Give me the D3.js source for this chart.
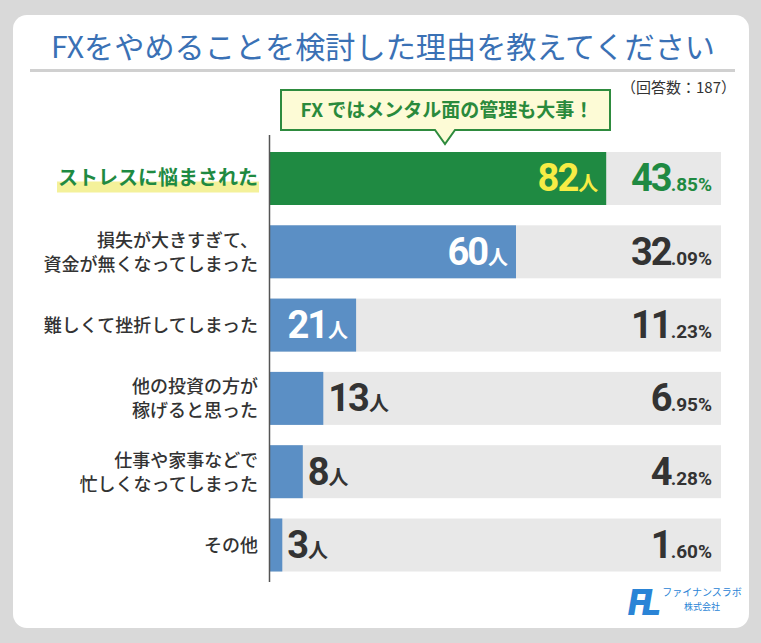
<!DOCTYPE html>
<html><head><meta charset="utf-8">
<script src="https://cdn.jsdelivr.net/npm/d3@7"></script>
<style>
html,body{margin:0;padding:0;background:#d9d9d9;}
svg{display:block;}
</style></head>
<body>
<script>
const categories = [
  ["ストレスに悩まされた"],
  ["損失が大きすぎて、","資金が無くなってしまった"],
  ["難しくて挫折してしまった"],
  ["他の投資の方が","稼げると思った"],
  ["仕事や家事などで","忙しくなってしまった"],
  ["その他"]
];
const counts = [82, 60, 21, 13, 8, 3];
const percentInt = ["43", "32", "11", "6", "4", "1"];
const percentDec = [".85%", ".09%", ".23%", ".95%", ".28%", ".60%"];
const title = "FXをやめることを検討した理由を教えてください";
const note = "（回答数：187）";
const callout = "FX ではメンタル面の管理も大事！";

const W = 761, H = 643;
const FONT = "'Noto Sans CJK JP','Noto Sans',sans-serif";
const NUM = "Roboto,'Noto Sans',sans-serif";
const svg = d3.select("body").append("svg").attr("width", W).attr("height", H);

svg.append("rect").attr("x",0).attr("y",0).attr("width",W).attr("height",H).attr("fill","#d9d9d9");
svg.append("rect").attr("x",13).attr("y",15).attr("width",736).attr("height",613).attr("rx",14).attr("fill","#ffffff");

svg.append("text").attr("x",383).attr("y",58).attr("text-anchor","middle")
  .attr("font-family",FONT).attr("font-size",30).attr("font-weight",400)
  .attr("textLength",664).attr("lengthAdjust","spacingAndGlyphs")
  .attr("fill","#3a71b5").text(title);
svg.append("line").attr("x1",30).attr("x2",735).attr("y1",70.5).attr("y2",70.5)
  .attr("stroke","#d0d0d0").attr("stroke-width",3);
svg.append("text").attr("x",736).attr("y",93).attr("text-anchor","end")
  .attr("font-family",FONT).attr("font-size",15).attr("fill","#333").text(note);

const x = d3.scaleLinear().domain([0, 110]).range([270, 721]);
const y = d3.scaleBand().domain(d3.range(counts.length)).range([152, 571.5]).paddingInner(0.277).paddingOuter(0);

const g = svg.append("g");
g.selectAll("rect.track").data(counts).join("rect").attr("class","track")
  .attr("x", x(0)).attr("y",(d,i)=>y(i)).attr("width", x.range()[1]-x(0)).attr("height", y.bandwidth())
  .attr("fill","#e8e8e8");
g.selectAll("rect.bar").data(counts).join("rect").attr("class","bar")
  .attr("x", x(0)).attr("y",(d,i)=>y(i)).attr("width", d=>x(d)-x(0)).attr("height", y.bandwidth())
  .attr("fill",(d,i)=> i===0 ? "#1f8a42" : "#5b8fc5");

svg.append("line").attr("x1",269.5).attr("x2",269.5).attr("y1",135).attr("y2",582)
  .attr("stroke","#555").attr("stroke-width",1.5);

// callout
const cg = svg.append("g");
cg.append("path")
  .attr("d","M281,90 H610 V130 H455 L445,144 L435,130 H281 Z")
  .attr("fill","#fdfbd6").attr("stroke","#2e8b3e").attr("stroke-width",2);
cg.append("text").attr("x",447).attr("y",117).attr("text-anchor","middle")
  .attr("font-family",FONT).attr("font-size",19).attr("font-weight",700)
  .attr("fill","#2a8a3c").text(callout);

// category labels
categories.forEach((lines,i)=>{
  const cy = y(i) + y.bandwidth()/2;
  const lh = 24;
  if(i===0){
    svg.append("rect").attr("x",57).attr("y",cy+3).attr("width",202).attr("height",11).attr("fill","#f4f19a");
  }
  const t = svg.append("text").attr("text-anchor","end").attr("font-family",FONT)
    .attr("font-size", i===0?20:18).attr("font-weight", i===0?700:500)
    .attr("fill", i===0 ? "#1f8a42" : "#333");
  lines.forEach((l,k)=>{
    t.append("tspan").attr("x",258).attr("y", cy + (k-(lines.length-1)/2)*lh + 7).text(l);
  });
});

// value labels
counts.forEach((d,i)=>{
  const cy = y(i) + y.bandwidth()/2 + 13;
  const inside = d >= 20;
  const t = svg.append("text").attr("font-family",NUM).attr("font-weight",700)
    .attr("y",cy)
    .attr("fill", i===0 ? "#f7ec45" : (inside ? "#ffffff" : "#333"));
  if(inside){
    t.attr("x", x(d)-8).attr("text-anchor","end");
  } else {
    t.attr("x", x(d)+5).attr("text-anchor","start");
  }
  t.append("tspan").attr("font-size",38).attr("letter-spacing",-2).text(d);
  t.append("tspan").attr("font-size",20).attr("font-family",FONT).attr("dx",1).text("人");
});

// percent labels
counts.forEach((d,i)=>{
  const cy = y(i) + y.bandwidth()/2 + 13;
  const t = svg.append("text").attr("font-family",NUM).attr("font-weight",700)
    .attr("x",712).attr("y",cy).attr("text-anchor","end")
    .attr("fill", i===0 ? "#1f8a42" : "#333");
  t.append("tspan").attr("font-size",38).attr("letter-spacing",-2).text(percentInt[i]);
  t.append("tspan").attr("font-size",19).text(percentDec[i]);
});

// logo
const lg = svg.append("g");
lg.append("text").attr("x",628).attr("y",615).attr("font-family",NUM)
  .attr("font-size",36).attr("font-weight",900).attr("font-style","italic").attr("fill","#2a84d6")
  .attr("letter-spacing",-5).text("FL");
lg.append("text").attr("x",702).attr("y",596).attr("text-anchor","middle").attr("font-family",FONT)
  .attr("font-size",10).attr("fill","#2a84d6").text("ファイナンスラボ");
lg.append("text").attr("x",702).attr("y",610).attr("text-anchor","middle").attr("font-family",FONT)
  .attr("font-size",9).attr("fill","#2a84d6").text("株式会社");
</script>
</body></html>
